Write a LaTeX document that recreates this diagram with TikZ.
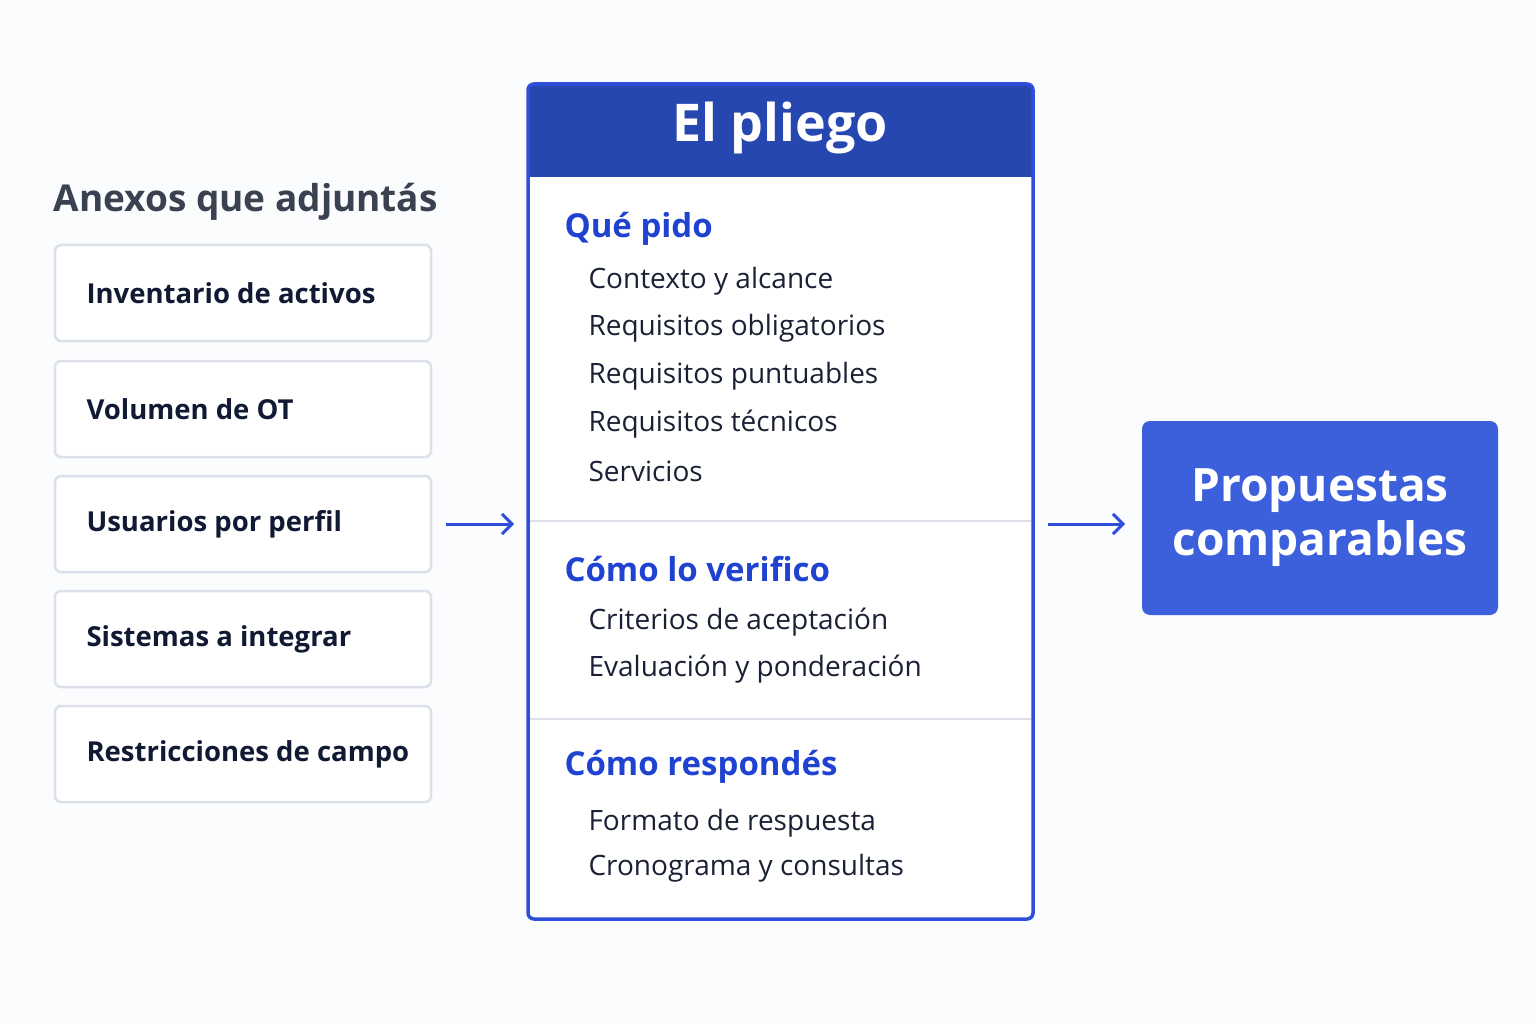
\documentclass[tikz,border=0pt]{standalone}
\usepackage{fontspec}
\setmainfont{Open Sans}
\usetikzlibrary{arrows.meta}
\definecolor{bg}{HTML}{FBFCFE}
\definecolor{hdr}{HTML}{2747B0}
\definecolor{bblue}{HTML}{2F4FD8}
\definecolor{sect}{HTML}{1F43D0}
\definecolor{prop}{HTML}{3C5FDC}
\definecolor{lgray}{HTML}{DCE0E9}
\definecolor{navy}{HTML}{111A33}
\definecolor{titg}{HTML}{3A4150}
\definecolor{itemc}{HTML}{1A2135}
\begin{document}
\begin{tikzpicture}[x=1pt,y=-1pt,
 anx/.style={draw=lgray,line width=2.5pt,fill=white,rounded corners=6pt,minimum width=376pt,minimum height=96pt},
 anxt/.style={anchor=west,font=\fontsize{27.5}{32}\selectfont\bfseries,text=navy},
 sec/.style={anchor=west,font=\fontsize{33}{38}\selectfont\bfseries,text=sect},
 itm/.style={anchor=west,font=\fontsize{28}{32}\selectfont,text=itemc},
 arr/.style={draw=bblue,line width=3pt,-{Straight Barb[length=10pt,width=20pt,line width=3pt]}}]
\fill[bg] (0,0) rectangle (1536,1024);
\node[anchor=west,font=\fontsize{37}{42}\selectfont\bfseries,text=titg] (title) at (50,202) {Anexos que adjuntás};
\foreach \y/\t [count=\i] in {293/Inventario de activos,409/Volumen de OT,524/Usuarios por perfil,639/Sistemas a integrar,754/Restricciones de campo}{
 \node[anx] (a\i) at (243,\y) {};
 \node[anxt] (at\i) at (83,\y) {\t};
}
\fill[hdr,rounded corners=6pt] (527,83) rectangle (1034,177);
\fill[hdr] (527,150) rectangle (1034,177);
\fill[white] (529,177) rectangle (1032,918);
\draw[bblue,line width=3.5pt,rounded corners=6pt] (528,84) rectangle (1033,919);
\node[font=\fontsize{52}{60}\selectfont\bfseries,text=white] (pl) at (780,128) {El pliego};
\draw[lgray,line width=2.5pt] (530,521) -- (1031,521);
\draw[lgray,line width=2.5pt] (530,719) -- (1031,719);
\node[sec] (s1) at (561,229) {Qué pido};
\node[sec] (s2) at (561,569) {Cómo lo verifico};
\node[sec] (s3) at (561,767) {Cómo respondés};
\foreach \y/\t in {281/Contexto y alcance,328/Requisitos obligatorios,376/Requisitos puntuables,424/Requisitos técnicos,471/Servicios,622/Criterios de aceptación,669/Evaluación y ponderación,823/Formato de respuesta,868/Cronograma y consultas}
 \node[itm] at (585,\y) {\t};
\node[fill=prop,rounded corners=8pt,minimum width=356pt,minimum height=194pt,align=center,text=white,font=\fontsize{46}{54}\selectfont\bfseries] (pc) at (1320,518) {Propuestas\\comparables};
\coordinate (l1) at (446,524); \coordinate (l2) at (514,524);
\coordinate (r1) at (1048,524); \coordinate (r2) at (1125,524);
\draw[arr] (l1) -- (l2);
\draw[arr] (r1) -- (r2);
\end{tikzpicture}
\end{document}
